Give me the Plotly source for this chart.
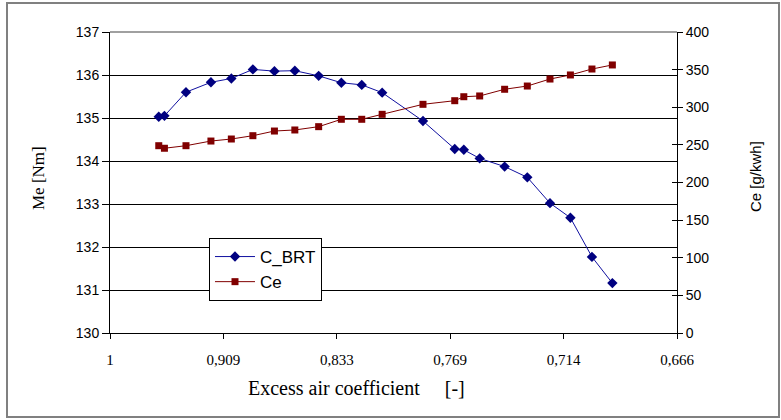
import plotly.graph_objects as go

# x positions on the chart's axis (axis is linear in 1/lambda; labels show lambda)
x_pos = [1.043, 1.048, 1.067, 1.089, 1.107, 1.126, 1.145, 1.163, 1.184, 1.204, 1.222,
         1.240, 1.276, 1.304, 1.312, 1.326, 1.348, 1.368, 1.388, 1.406, 1.425, 1.443]
c_brt = [135.03, 135.05, 135.60, 135.83, 135.92, 136.13, 136.09, 136.10, 135.98, 135.82, 135.77,
         135.59, 134.93, 134.28, 134.26, 134.06, 133.87, 133.62, 133.02, 132.68, 131.77, 131.16]
ce = [248.9, 245.5, 248.9, 255.1, 257.8, 262.2, 268.4, 269.8, 274.2, 284.0, 284.0,
      290.6, 303.9, 308.7, 314.0, 315.0, 323.9, 328.2, 337.5, 342.9, 350.8, 356.2]

x_tickvals = [1.0, 1.1, 1.2, 1.3, 1.4, 1.5]
x_ticktext = ["1", "0,909", "0,833", "0,769", "0,714", "0,666"]
left_ticks = [130, 131, 132, 133, 134, 135, 136, 137]
right_ticks = [0, 50, 100, 150, 200, 250, 300, 350, 400]

fig = go.Figure()
fig.add_trace(go.Scatter(
    x=x_pos, y=c_brt, name="C_BRT", mode="lines+markers",
    line=dict(color="#1010a0", width=1),
    marker=dict(symbol="diamond", size=8, color="#000080"),
    yaxis="y"))
fig.add_trace(go.Scatter(
    x=x_pos, y=ce, name="Ce", mode="lines+markers",
    line=dict(color="#800000", width=1),
    marker=dict(symbol="square", size=7, color="#800000"),
    yaxis="y2"))
# invisible helper trace to carry the inner tick marks of the right axis
fig.add_trace(go.Scatter(x=[x_pos[0]], y=[ce[0]], yaxis="y3", mode="markers",
                         marker=dict(opacity=0), showlegend=False, hoverinfo="skip"))

sans = "Liberation Sans, Arial, sans-serif"
serif = "Liberation Serif, Times New Roman, serif"

fig.update_layout(
    width=781, height=420,
    margin=dict(l=110, r=104, t=32, b=87),
    paper_bgcolor="white", plot_bgcolor="white",
    showlegend=True,
    legend=dict(x=0.1746, y=0.3156, xanchor="left", yanchor="top",
                bgcolor="white", bordercolor="black", borderwidth=1,
                font=dict(family=sans, size=17, color="black"),
                itemwidth=40, tracegroupgap=0),
    xaxis=dict(range=[1.0, 1.5], tickvals=x_tickvals, ticktext=x_ticktext,
               showgrid=False, zeroline=False, showline=True, linecolor="black", linewidth=1,
               ticks="outside", ticklen=5, tickcolor="black", ticklabelstandoff=8,
               tickfont=dict(family=serif, size=15, color="black")),
    yaxis=dict(range=[130, 137], tickvals=left_ticks, showgrid=True, gridcolor="black",
               gridwidth=1, zeroline=False, showline=True, linecolor="black", linewidth=1,
               ticks="outside", ticklen=7, tickcolor="black",
               tickfont=dict(family=sans, size=14, color="black")),
    yaxis2=dict(range=[0, 400], tickvals=right_ticks, overlaying="y", side="right",
                showgrid=False, zeroline=False, showline=True, linecolor="black", linewidth=1,
                ticks="outside", ticklen=5, tickcolor="black",
                tickfont=dict(family=sans, size=14, color="black")),
    yaxis3=dict(range=[0, 400], tickvals=right_ticks, overlaying="y", side="right",
                showgrid=False, zeroline=False, showline=False, showticklabels=False,
                ticks="inside", ticklen=5, tickcolor="black"),
    annotations=[
        dict(text="Excess air coefficient&nbsp;&nbsp;&nbsp;&nbsp;&nbsp;[-]", xref="paper", yref="paper",
             x=(356 - 110) / 567, y=(333 - 388) / 301, xanchor="center", yanchor="middle",
             showarrow=False, font=dict(family=serif, size=20, color="black")),
        dict(text="Me [Nm]", xref="paper", yref="paper", textangle=-90,
             x=(38 - 110) / 567, y=(333 - 178) / 301, xanchor="center", yanchor="middle",
             showarrow=False, font=dict(family=serif, size=17, color="black")),
        dict(text="Ce [g/kwh]", xref="paper", yref="paper", textangle=-90,
             x=(755 - 110) / 567, y=(333 - 177) / 301, xanchor="center", yanchor="middle",
             showarrow=False, font=dict(family=sans, size=15, color="black")),
    ],
    shapes=[
        dict(type="rect", xref="paper", yref="paper",
             x0=(7 - 110) / 567, x1=(779 - 110) / 567,
             y0=(333 - 417) / 301, y1=(333 - 3) / 301,
             line=dict(color="#808080", width=2), layer="below"),
        dict(type="line", xref="paper", yref="paper", x0=0, x1=1, y0=1, y1=1,
             line=dict(color="#a0a0a0", width=2), layer="above"),
    ],
)

fig.write_html("out.html", config={"displayModeBar": False},
               post_script="document.body.style.margin='0';")
